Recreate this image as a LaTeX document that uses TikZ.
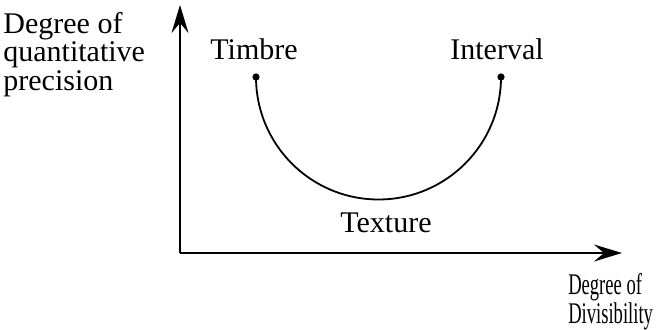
\documentclass[tikz,border=0pt]{standalone}
\usepackage{fontspec}
\setmainfont{Liberation Serif}
\usetikzlibrary{arrows.meta,positioning}

\begin{document}
\begin{tikzpicture}[x=0.5pt, y=0.5pt,
    lbl/.style={inner sep=0pt, font=\fontsize{15}{11.75}\selectfont},
    small/.style={inner sep=0pt, font=\fontsize{15}{11.5}\selectfont, xscale=0.62},
    axis/.style={-{Stealth[length=14pt, width=8.5pt, inset=5pt]}, line width=0.9pt},
    curve/.style={line width=0.9pt},
    pin/.style={circle, fill=black, inner sep=0pt, minimum size=3.6pt}]
  \useasboundingbox (0,0) rectangle (657,330);
  % === Axes ===
  \coordinate (orig) at (180,77);
  \coordinate (ytop) at (180,325);
  \coordinate (xend) at (622,77);
  \draw[axis] (orig) -- (ytop);
  \draw[axis] (orig) -- (xend);
  % === Axis labels ===
  \node[lbl, anchor=north west, align=left] (ylab) at (3,318) {Degree of\\quantitative\\precision};
  \node[small, anchor=north west, align=left] (xlab) at (568,57) {Degree of\\Divisibility};
  % === Half circle between the two ends ===
  \node[pin] (tim) at (256,253) {};
  \node[pin] (int) at (501,253) {};
  \draw[curve] (tim.center) arc[start angle=180, end angle=360, radius=122.5];
  % === Labels on the curve ===
  \node[lbl, anchor=base] (timlab) at (254,270) {Timbre};
  \node[lbl, anchor=base] (intlab) at (497,270) {Interval};
  \node[lbl, anchor=base] (texlab) at (386,97) {Texture};
\end{tikzpicture}
\end{document}
